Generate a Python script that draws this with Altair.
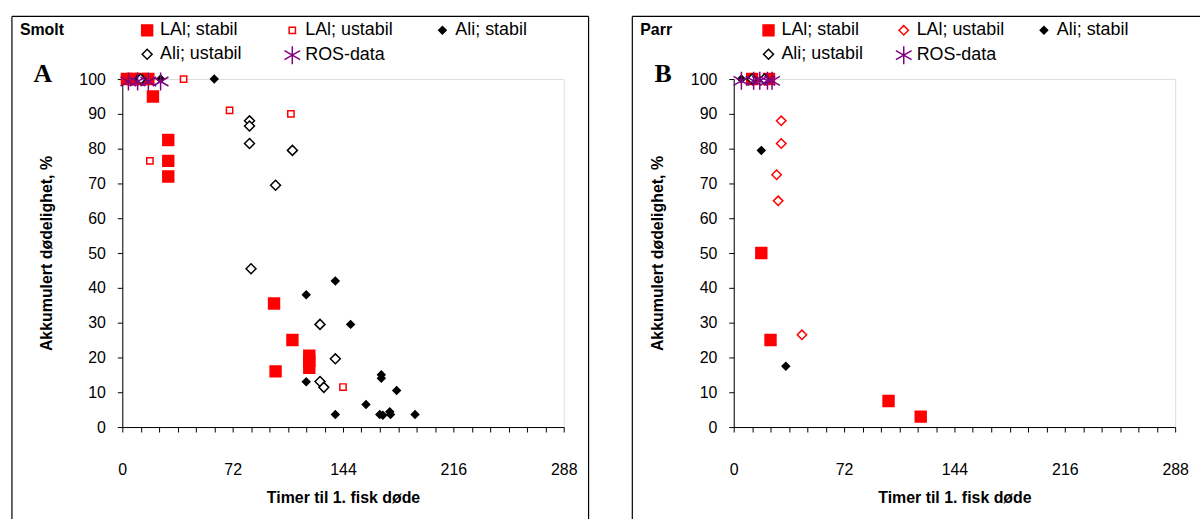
import altair as alt
import pandas as pd

series = ["LAl; stabil", "LAl; ustabil", "Ali; stabil", "Ali; ustabil", "ROS-data"]
# legend is laid out column by column (2 rows x 3 columns)
legend_order = ["LAl; stabil", "Ali; ustabil", "LAl; ustabil", "ROS-data", "Ali; stabil"]

# ---------- Panel A (Smolt) ----------
a_lal_stabil_x = [3, 7, 12, 17, 20, 30, 30, 30, 99, 111, 100, 122, 122, 122]
a_lal_stabil_y = [100, 100, 100, 100, 95, 82.5, 76.5, 72, 35.5, 25, 16, 20.5, 19, 17]
a_lal_ustabil_x = [40, 70, 110, 18, 144]
a_lal_ustabil_y = [100, 91, 90, 76.5, 11.5]
a_ali_stabil_x = [10, 13, 25, 60, 139, 120, 149, 120, 169, 169, 179, 159, 139, 168, 170, 174.5, 175, 191]
a_ali_stabil_y = [100, 100, 100, 100, 42, 38, 29.5, 13, 15, 14, 10.5, 6.5, 3.6, 3.6, 3.4, 4.4, 3.6, 3.6]
a_ali_ustabil_x = [12, 83, 83, 83, 111, 100, 84, 129, 139, 129, 131.5]
a_ali_ustabil_y = [100, 88, 86.5, 81.5, 79.5, 69.5, 45.5, 29.5, 19.6, 13.1, 11.4]
a_ros_x = [4, 10, 17, 25]
a_ros_y = [99.3, 99.3, 99.3, 99.3]

# ---------- Panel B (Parr) ----------
b_lal_stabil_x = [12, 23, 18, 24, 101, 122]
b_lal_stabil_y = [100, 100, 50, 25, 7.5, 3]
b_lal_ustabil_x = [31, 31, 28, 29, 44.5]
b_lal_ustabil_y = [88, 81.5, 72.5, 65, 26.5]
b_ali_stabil_x = [5, 18, 34]
b_ali_stabil_y = [100, 79.5, 17.5]
b_ali_ustabil_x = [12, 20]
b_ali_ustabil_y = [100, 100]
b_ros_x = [5, 13, 17, 22, 25]
b_ros_y = [99.5, 99.5, 99.5, 99.5, 99.5]

x_ticks = list(range(0, 289, 12))
y_ticks = list(range(0, 101, 10))

ASTERISK = "M0,-1L0,1M-0.87,-0.5L0.87,0.5M-0.87,0.5L0.87,-0.5"
strokes = {"LAl; stabil": "#FF0000", "LAl; ustabil": "#FF0000", "Ali; stabil": "#000000",
           "Ali; ustabil": "#000000", "ROS-data": "#800080"}
fills = {"LAl; stabil": "#FF0000", "LAl; ustabil": "#FFFFFF", "Ali; stabil": "#000000",
         "Ali; ustabil": "#FFFFFF", "ROS-data": "transparent"}

FONT = "Liberation Sans"


def build_df(groups):
    rows = []
    for name, xs, ys in groups:
        for x, y in zip(xs, ys):
            rows.append({"serie": name, "timer": x, "dod": y})
    return pd.DataFrame(rows)


df_a = build_df([
    (series[0], a_lal_stabil_x, a_lal_stabil_y),
    (series[1], a_lal_ustabil_x, a_lal_ustabil_y),
    (series[2], a_ali_stabil_x, a_ali_stabil_y),
    (series[3], a_ali_ustabil_x, a_ali_ustabil_y),
    (series[4], a_ros_x, a_ros_y),
])
df_b = build_df([
    (series[0], b_lal_stabil_x, b_lal_stabil_y),
    (series[1], b_lal_ustabil_x, b_lal_ustabil_y),
    (series[2], b_ali_stabil_x, b_ali_stabil_y),
    (series[3], b_ali_ustabil_x, b_ali_ustabil_y),
    (series[4], b_ros_x, b_ros_y),
])

one = pd.DataFrame({"k": [0]})


def panel(df, shapes, sizes, stage, letter, leg_x, col_pad, b_left, b_right, right_border):
    dom = legend_order
    x = alt.X(
        "timer:Q",
        scale=alt.Scale(domain=[0, 288], nice=False),
        axis=alt.Axis(
            values=x_ticks,
            labelExpr="datum.value % 72 == 0 ? datum.label : ''",
            title="Timer til 1. fisk døde",
            grid=False, tickSize=5, labelPadding=30, titlePadding=12,
            labelFontSize=16, titleFontSize=16, titleFontWeight="bold",
            labelFont=FONT, titleFont=FONT, labelColor="#000", titleColor="#000",
            domainColor="#000", tickColor="#000", labelFlush=False,
        ),
    )
    y = alt.Y(
        "dod:Q",
        scale=alt.Scale(domain=[0, 100], nice=False),
        axis=alt.Axis(
            values=y_ticks,
            title="Akkumulert dødelighet, %",
            grid=False, tickSize=5, labelPadding=12, titlePadding=25,
            labelFontSize=16, titleFontSize=16, titleFontWeight="bold",
            labelFont=FONT, titleFont=FONT, labelColor="#000", titleColor="#000",
            domainColor="#000", tickColor="#000",
        ),
    )
    leg = alt.Legend(
        title=None, orient="none", legendX=leg_x, legendY=-58, columns=3,
        columnPadding=col_pad, rowPadding=3, padding=0,
        labelFont=FONT, labelFontSize=18, labelColor="#000", labelOffset=3,
        symbolStrokeWidth=1.5,
    )
    pts = alt.Chart(df).mark_point(opacity=1, strokeWidth=1.5).encode(
        x=x, y=y,
        shape=alt.Shape("serie:N", scale=alt.Scale(domain=dom, range=[shapes[s] for s in dom]), legend=leg),
        color=alt.Color("serie:N", scale=alt.Scale(domain=dom, range=[strokes[s] for s in dom])),
        fill=alt.Fill("serie:N", scale=alt.Scale(domain=dom, range=[fills[s] for s in dom])),
        size=alt.Size("serie:N", scale=alt.Scale(type="ordinal", domain=dom, range=[sizes[s] for s in dom])),
    )
    stage_txt = alt.Chart(one).mark_text(
        text=stage, font=FONT, fontWeight="bold", fontSize=16, align="left", baseline="middle", color="#000"
    ).encode(x=alt.value(b_left + 8), y=alt.value(-49))
    letter_txt = alt.Chart(one).mark_text(
        text=letter, font="Liberation Serif", fontWeight="bold", fontSize=26, align="center", baseline="middle", color="#000"
    ).encode(x=alt.value(b_left + 31), y=alt.value(-5))
    border = [
        alt.Chart(one).mark_rule(color="#000", strokeWidth=1.2).encode(
            x=alt.value(b_left), y=alt.value(-63), y2=alt.value(443)),
        alt.Chart(one).mark_rule(color="#000", strokeWidth=1.2).encode(
            x=alt.value(b_left), x2=alt.value(b_right), y=alt.value(-63)),
    ]
    if right_border:
        border.append(alt.Chart(one).mark_rule(color="#000", strokeWidth=1.2).encode(
            x=alt.value(b_right), y=alt.value(-63), y2=alt.value(443)))
    return alt.layer(*border, stage_txt, letter_txt, pts).properties(width=444, height=350)


shapes_a = {"LAl; stabil": "square", "LAl; ustabil": "square", "Ali; stabil": "diamond",
            "Ali; ustabil": "diamond", "ROS-data": ASTERISK}
shapes_b = {"LAl; stabil": "square", "LAl; ustabil": "diamond", "Ali; stabil": "diamond",
            "Ali; ustabil": "diamond", "ROS-data": ASTERISK}
sizes_a = {"LAl; stabil": 120, "LAl; ustabil": 40, "Ali; stabil": 55, "Ali; ustabil": 100, "ROS-data": 330}
sizes_b = {"LAl; stabil": 120, "LAl; ustabil": 90, "Ali; stabil": 55, "Ali; ustabil": 100, "ROS-data": 330}

pa = panel(df_a, shapes_a, sizes_a, "Smolt", "A", 15, 39, -111, 469, True)
pb = panel(df_b, shapes_b, sizes_b, "Parr", "B", 25, 29, -102, 469, False)

chart = alt.hconcat(pa, pb, spacing=40).resolve_scale(
    shape="independent", color="independent", fill="independent", size="independent", x="independent", y="independent"
).properties(
    padding={"left": 10, "top": 13, "right": 0, "bottom": 0}
).configure_view(stroke=None).configure(background="white")

chart.save("out.html", embed_options={"renderer": "svg", "actions": False})
